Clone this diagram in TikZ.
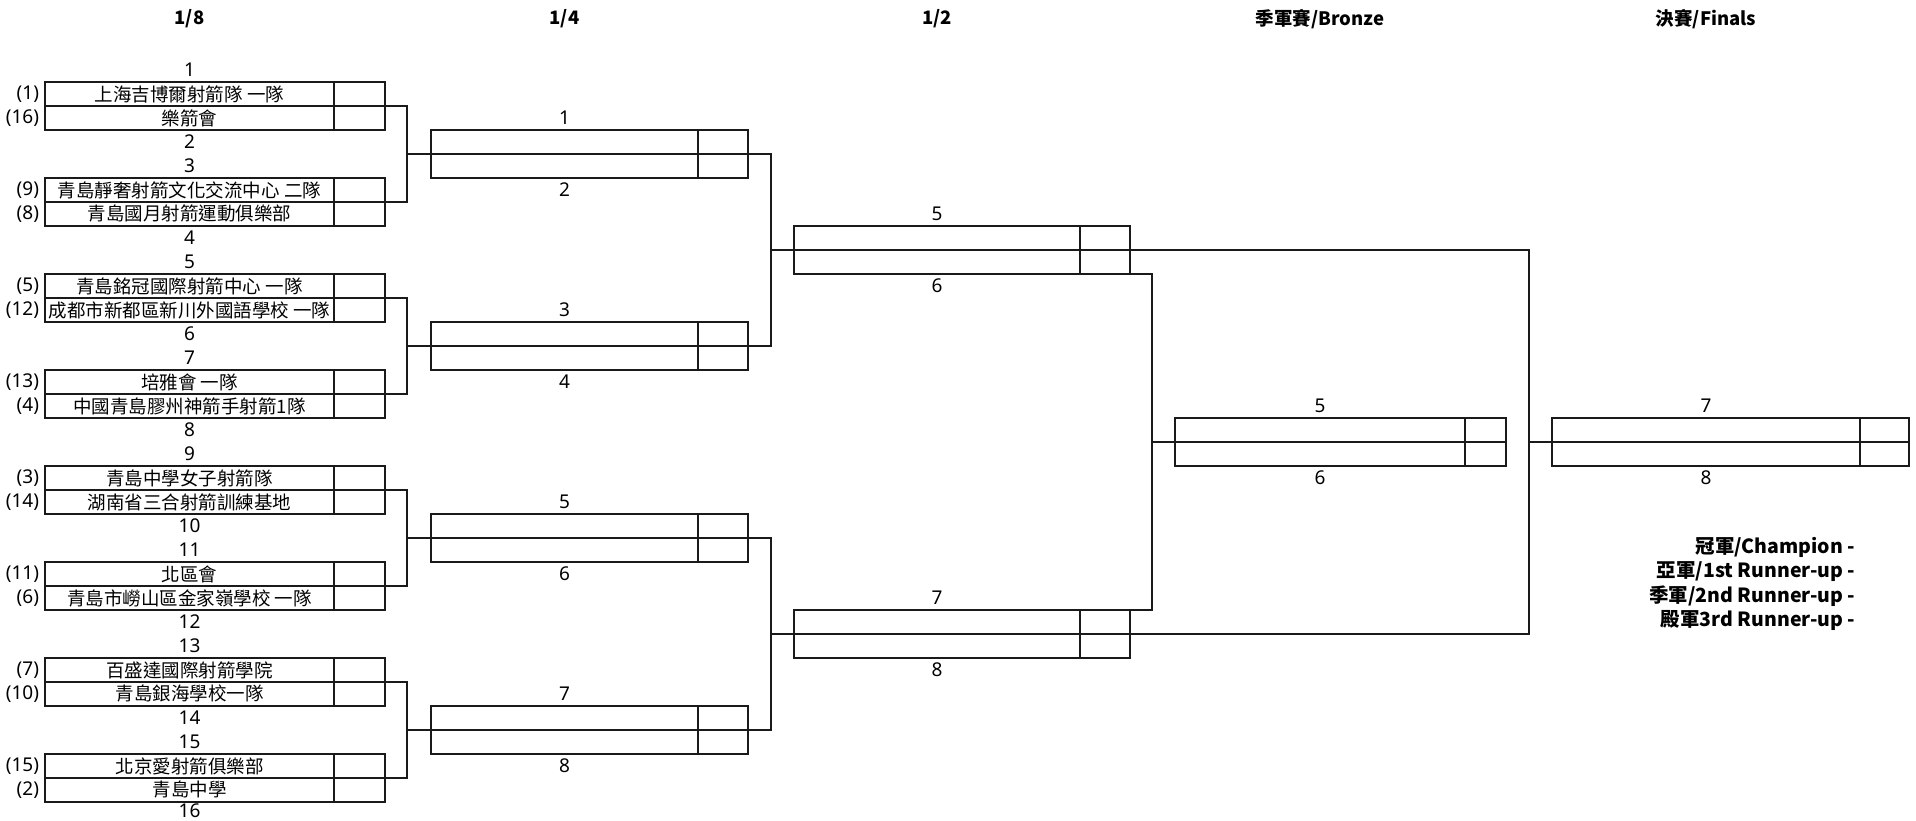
\documentclass[tikz,border=0pt]{standalone}
\usepackage{fontspec}
\setmainfont{Noto Sans CJK TC}
\newfontfamily\numfont{Noto Sans}
\definecolor{linec}{HTML}{1A1A1A}
\newcommand{\brmatch}[7]{%
  \node[cell, minimum width=#3, anchor=north west] (#1a) at (#2,#5) {#6};
  \node[cell, minimum width=#4, anchor=west] (#1as) at (#1a.east) {};
  \node[cell, minimum width=#3, anchor=north] (#1b) at (#1a.south) {#7};
  \node[cell, minimum width=#4, anchor=west] (#1bs) at (#1b.east) {};
}
\begin{document}
\begin{tikzpicture}[x=1pt,y=-1pt,
  every node/.style={inner sep=0pt, outer sep=0pt, font=\fontsize{18.5}{22}\selectfont},
  cell/.style={draw=linec, line width=1.5pt, minimum height=24pt},
  num/.style={font=\numfont\fontsize{19}{22}\selectfont},
  hdr/.style={font=\fontsize{18.5}{22}\selectfont\bfseries},
  legend/.style={anchor=east, font=\fontsize{19.5}{22}\selectfont\bfseries},
  seed/.style={anchor=east, font=\numfont\fontsize{19}{22}\selectfont},
  wire/.style={draw=linec, line width=1.5pt}]
\useasboundingbox (0,0) rectangle (1916,820);

% headers
\node[hdr] (h1) at (189.5,19) {1/8};
\node[hdr] (h2) at (564.5,19) {1/4};
\node[hdr] (h3) at (937,19) {1/2};
\node[hdr] (h4) at (1320,19) {季軍賽/Bronze};
\node[hdr] (h5) at (1706,19) {決賽/Finals};

% round of 16
\brmatch{m1}{45}{289}{51}{82}{上海吉博爾射箭隊 一隊}{樂箭會}
\brmatch{m2}{45}{289}{51}{178}{青島靜奢射箭文化交流中心 二隊}{青島國月射箭運動俱樂部}
\brmatch{m3}{45}{289}{51}{274}{青島銘冠國際射箭中心 一隊}{成都市新都區新川外國語學校 一隊}
\brmatch{m4}{45}{289}{51}{370}{培雅會 一隊}{中國青島膠州神箭手射箭1隊}
\brmatch{m5}{45}{289}{51}{466}{青島中學女子射箭隊}{湖南省三合射箭訓練基地}
\brmatch{m6}{45}{289}{51}{562}{北區會}{青島市嶗山區金家嶺學校 一隊}
\brmatch{m7}{45}{289}{51}{658}{百盛達國際射箭學院}{青島銀海學校一隊}
\brmatch{m8}{45}{289}{51}{754}{北京愛射箭俱樂部}{青島中學}

% seeds
\node[seed] (s1) at ([xshift=-6pt]m1a.west) {(1)};
\node[seed] (s16) at ([xshift=-6pt]m1b.west) {(16)};
\node[seed] (s9) at ([xshift=-6pt]m2a.west) {(9)};
\node[seed] (s8) at ([xshift=-6pt]m2b.west) {(8)};
\node[seed] (s5) at ([xshift=-6pt]m3a.west) {(5)};
\node[seed] (s12) at ([xshift=-6pt]m3b.west) {(12)};
\node[seed] (s13) at ([xshift=-6pt]m4a.west) {(13)};
\node[seed] (s4) at ([xshift=-6pt]m4b.west) {(4)};
\node[seed] (s3) at ([xshift=-6pt]m5a.west) {(3)};
\node[seed] (s14) at ([xshift=-6pt]m5b.west) {(14)};
\node[seed] (s11) at ([xshift=-6pt]m6a.west) {(11)};
\node[seed] (s6) at ([xshift=-6pt]m6b.west) {(6)};
\node[seed] (s7) at ([xshift=-6pt]m7a.west) {(7)};
\node[seed] (s10) at ([xshift=-6pt]m7b.west) {(10)};
\node[seed] (s15) at ([xshift=-6pt]m8a.west) {(15)};
\node[seed] (s2) at ([xshift=-6pt]m8b.west) {(2)};

% round of 16 numbers
\foreach \i/\t/\b in {1/1/2,2/3/4,3/5/6,4/7/8,5/9/10,6/11/12,7/13/14}{
  \node[num] (m\i t) at ([yshift=12pt]m\i a.north) {\t};
  \node[num] (m\i n) at ([yshift=-12pt]m\i b.south) {\b};
}
\node[num] (m8t) at ([yshift=12pt]m8a.north) {15};
\node[num] (m8n) at ([yshift=-8.5pt]m8b.south) {16};

% quarter finals
\brmatch{q1}{431}{267}{50}{130}{}{}
\brmatch{q2}{431}{267}{50}{322}{}{}
\brmatch{q3}{431}{267}{50}{514}{}{}
\brmatch{q4}{431}{267}{50}{706}{}{}
\foreach \i/\t/\b in {1/1/2,2/3/4,3/5/6,4/7/8}{
  \node[num] (q\i t) at ([yshift=12pt]q\i a.north) {\t};
  \node[num] (q\i n) at ([yshift=-12pt]q\i b.south) {\b};
}

% semi finals
\brmatch{sf1}{794}{286}{50}{226}{}{}
\brmatch{sf2}{794}{286}{50}{610}{}{}
\foreach \i/\t/\b in {1/5/6,2/7/8}{
  \node[num] (sf\i t) at ([yshift=12pt]sf\i a.north) {\t};
  \node[num] (sf\i n) at ([yshift=-12pt]sf\i b.south) {\b};
}

% bronze and finals
\brmatch{br}{1175}{290}{41}{418}{}{}
\brmatch{fi}{1552}{308}{49}{418}{}{}
\node[num] (brt) at ([yshift=12pt]bra.north) {5};
\node[num] (brn) at ([yshift=-12pt]brb.south) {6};
\node[num] (fit) at ([yshift=12pt]fia.north) {7};
\node[num] (fin) at ([yshift=-12pt]fib.south) {8};

% junction coordinates
\coordinate (j1) at (407,154);
\coordinate (j2) at (407,346);
\coordinate (j3) at (407,538);
\coordinate (j4) at (407,730);
\coordinate (k1) at (771,250);
\coordinate (k2) at (771,634);
\coordinate (jf) at (1529,442);
\coordinate (jb) at (1152,442);

% connectors round of 16 -> quarter
\draw[wire] (m1as.south east) -| (j1) |- (m2as.south east);
\draw[wire] (j1) -- (q1a.south west);
\draw[wire] (m3as.south east) -| (j2) |- (m4as.south east);
\draw[wire] (j2) -- (q2a.south west);
\draw[wire] (m5as.south east) -| (j3) |- (m6as.south east);
\draw[wire] (j3) -- (q3a.south west);
\draw[wire] (m7as.south east) -| (j4) |- (m8as.south east);
\draw[wire] (j4) -- (q4a.south west);

% quarter -> semi
\draw[wire] (q1as.south east) -| (k1) |- (q2as.south east);
\draw[wire] (k1) -- (sf1a.south west);
\draw[wire] (q3as.south east) -| (k2) |- (q4as.south east);
\draw[wire] (k2) -- (sf2a.south west);

% semi -> finals
\draw[wire] (sf1as.south east) -| (jf) |- (sf2as.south east);
\draw[wire] (jf) -- (fia.south west);
% semi -> bronze
\draw[wire] (sf1bs.south east) -| (jb) |- (sf2as.north east);
\draw[wire] (jb) -- (bra.south west);

% legend
\node[legend] (l1) at (1855,547) {冠軍/Champion -};
\node[legend] (l2) at (1855,572) {亞軍/1st Runner-up -};
\node[legend] (l3) at (1855,596) {季軍/2nd Runner-up -};
\node[legend] (l4) at (1855,620) {殿軍3rd Runner-up -};
\end{tikzpicture}
\end{document}
